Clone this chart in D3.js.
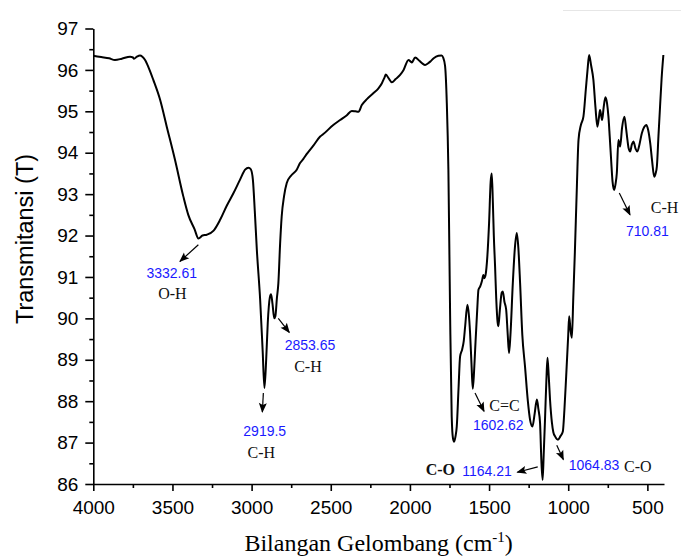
<!DOCTYPE html>
<html>
<head>
<meta charset="utf-8">
<script src="https://cdn.jsdelivr.net/npm/d3@7"></script>
<style>
  body { margin: 0; background: #fff; }
  .axis text { font-family: "Liberation Sans", Arial, sans-serif; font-size: 19px; fill: #000; }
  .axis path, .axis line { stroke: #000; stroke-width: 1.6px; }
</style>
</head>
<body>
<div id="chart"></div>
<script>
// FTIR spectrum - wavenumber (cm-1) and transmittance (%)
var wavenumber = [4000, 3950, 3900, 3863, 3820, 3768, 3750, 3743, 3725, 3705, 3690, 3673, 3650, 3621, 3578, 3536, 3484, 3431, 3400, 3360,
  3336, 3310, 3283, 3240, 3199, 3157, 3115, 3073, 3041, 3020, 3005, 2992, 2980, 2967, 2946, 2930, 2919, 2908, 2898, 2885,
  2877, 2868, 2857, 2850, 2840, 2831, 2820, 2810, 2795, 2778, 2750, 2715, 2694, 2673, 2650, 2631, 2610, 2567, 2547, 2484,
  2441, 2400, 2367, 2345, 2325, 2304, 2270, 2230, 2200, 2177, 2160, 2152, 2135, 2114, 2090, 2062, 2040, 2009, 1995, 1988,
  1967, 1940, 1920, 1904, 1885, 1872, 1850, 1820, 1800, 1790, 1778, 1767, 1757, 1746, 1736, 1728, 1721, 1712, 1704, 1693,
  1683, 1670, 1660, 1651, 1637, 1628, 1620, 1611, 1603, 1595, 1588, 1575, 1567, 1556, 1545, 1536, 1530, 1522, 1511, 1500,
  1490, 1483, 1476, 1470, 1462, 1455, 1446, 1441, 1432, 1420, 1413, 1403, 1392, 1382, 1374, 1365, 1350, 1337, 1325, 1315,
  1304, 1290, 1273, 1255, 1241, 1226, 1212, 1198, 1188, 1178, 1170, 1162, 1155, 1146, 1138, 1131, 1123, 1115, 1103, 1094,
  1083, 1065, 1050, 1034, 1024, 1013, 1000, 994, 985, 977, 968, 958, 946, 935, 920, 904, 889, 878, 868, 855,
  841, 828, 816, 806, 799, 792, 786, 776, 765, 755, 746, 738, 729, 720, 710, 701, 693, 683, 672, 660,
  645, 635, 626, 618, 609, 598, 588, 575, 563, 550, 535, 520, 507, 495, 482, 470, 457, 448, 440, 430,
  420, 410, 399];
var transmittance = [96.34, 96.31, 96.28, 96.24, 96.27, 96.32, 96.3, 96.27, 96.32, 96.35, 96.32, 96.24, 96.05, 95.76, 95.28, 94.63, 93.83, 92.94, 92.5, 92.15,
  91.93, 92.0, 92.02, 92.12, 92.38, 92.72, 93.02, 93.35, 93.59, 93.64, 93.6, 93.35, 92.6, 91.66, 90.45, 89.2, 88.32, 89.0, 89.89, 90.5,
  90.58, 90.35, 90.0, 90.05, 90.5, 90.85, 91.8, 92.46, 92.95, 93.27, 93.45, 93.59, 93.75, 93.85, 93.98, 94.07, 94.17, 94.39, 94.45, 94.67,
  94.79, 94.9, 95.01, 95.0, 94.99, 95.15, 95.3, 95.44, 95.55, 95.68, 95.82, 95.89, 95.8, 95.7, 95.78, 95.88, 96.0, 96.24, 96.2, 96.18,
  96.3, 96.22, 96.15, 96.12, 96.16, 96.2, 96.28, 96.34, 96.35, 96.3, 96.1, 95.2, 93.6, 90.05, 87.63, 87.1, 87.02, 87.15, 87.39, 88.3,
  89.08, 89.25, 89.45, 89.81, 90.33, 90.1, 89.65, 88.9, 88.3, 88.7, 89.24, 90.2, 90.69, 90.77, 90.9, 91.05, 90.97, 91.05, 91.49, 92.3,
  93.3, 93.5, 92.8, 92.0, 91.25, 90.5, 89.9, 89.81, 90.2, 90.62, 90.65, 90.4, 90.21, 89.6, 89.16, 89.6, 90.85, 91.7, 92.06, 91.7,
  90.85, 89.6, 88.84, 88.0, 87.55, 87.39, 87.7, 88.04, 87.8, 87.48, 86.6, 86.1, 86.7, 87.63, 88.5, 89.05, 88.6, 88.04, 87.48, 87.25,
  87.15, 87.07, 87.15, 87.27, 87.8, 88.6, 89.6, 90.05, 89.7, 89.53, 90.5, 91.6, 93.1, 94.31, 94.67, 94.87, 95.52, 96.0, 96.36, 96.1,
  95.76, 95.1, 94.63, 94.85, 95.03, 94.9, 94.79, 95.1, 95.34, 95.2, 94.87, 94.4, 93.83, 93.3, 93.1, 93.25, 93.51, 94.31, 94.15, 94.6,
  94.87, 94.6, 94.31, 94.1, 94.03, 94.2, 94.27, 94.1, 94.03, 94.2, 94.47, 94.62, 94.67, 94.55, 94.23, 93.8, 93.42, 93.5, 93.67, 94.4,
  95.11, 95.8, 96.36];

// labelled peaks
var peakWn = [3332.61, 2919.5, 2853.65, 1602.62, 1164.21, 1064.83, 710.81];
var peakT = [91.93, 88.32, 90.0, 88.3, 86.1, 87.07, 93.1];
var peakText = ["3332.61", "2919.5", "2853.65", "1602.62", "1164.21", "1064.83", "710.81"];
var peakGroup = ["O-H", "C-H", "C-H", "C=C", "C-O", "C-O", "C-H"];

var xTicks = [4000, 3500, 3000, 2500, 2000, 1500, 1000, 500];
var yTicks = [86, 87, 88, 89, 90, 91, 92, 93, 94, 95, 96, 97];

var w = 681, h = 557;
var padLeft = 93.3, padRight = 664, padTop = 28.5, padBottom = 484;

var svg = d3.select("#chart").append("svg")
  .attr("width", w)
  .attr("height", h);

var xScale = d3.scaleLinear().domain([4000, 395]).range([padLeft, padRight]);
var yScale = d3.scaleLinear().domain([86, 97]).range([padBottom, padTop]);

// faint line top right (present in the original image)
svg.append("line")
  .attr("x1", 563).attr("x2", 681).attr("y1", 10.5).attr("y2", 10.5)
  .style("stroke", "#e6e6e6").style("stroke-width", 1);

// minor ticks first, then major axes on top
svg.append("g")
  .attr("class", "axis")
  .attr("transform", "translate(" + padLeft + ",0)")
  .call(d3.axisLeft(yScale).tickValues(d3.range(86.5, 97, 1)).tickSize(4).tickFormat(""))
  .select(".domain").remove();
svg.append("g")
  .attr("class", "axis")
  .attr("transform", "translate(0," + padBottom + ")")
  .call(d3.axisBottom(xScale).tickValues(xTicks.map(function(d) { return d - 250; }).filter(function(d) { return d > 395; })).tickSize(4).tickFormat(""))
  .select(".domain").remove();

var yAxis = d3.axisLeft(yScale)
  .tickValues(yTicks)
  .tickSize(8)
  .tickSizeOuter(0)
  .tickPadding(7)
  .tickFormat(d3.format("d"));
svg.append("g")
  .attr("class", "axis")
  .attr("transform", "translate(" + padLeft + ",0)")
  .call(yAxis);

var xAxis = d3.axisBottom(xScale)
  .tickValues(xTicks)
  .tickSize(7)
  .tickSizeOuter(0)
  .tickPadding(10)
  .tickFormat(d3.format("d"));
svg.append("g")
  .attr("class", "axis")
  .attr("transform", "translate(0," + padBottom + ")")
  .call(xAxis);

// axis titles
svg.append("text")
  .attr("transform", "translate(33," + 239 + ") rotate(-90)")
  .attr("text-anchor", "middle")
  .style("font-family", "'Liberation Sans', Arial, sans-serif")
  .style("font-size", "23.5px")
  .text("Transmitansi (T)");

var xLabel = svg.append("text")
  .attr("x", (padLeft + padRight) / 2)
  .attr("y", 551)
  .attr("text-anchor", "middle")
  .style("font-family", "'Liberation Serif', 'Times New Roman', serif")
  .style("font-size", "24px");
xLabel.append("tspan").text("Bilangan Gelombang (cm");
xLabel.append("tspan").attr("dy", -9).style("font-size", "15px").text("-1");
xLabel.append("tspan").attr("dy", 9).text(")");

// spectrum line
var data = wavenumber.map(function(d, i) { return {wn: d, t: transmittance[i]}; });
var line = d3.line()
  .x(function(d) { return xScale(d.wn); })
  .y(function(d) { return yScale(d.t); })
  .curve(d3.curveMonotoneX);
svg.append("path")
  .datum(data)
  .attr("d", line)
  .style("fill", "none")
  .style("stroke", "#000")
  .style("stroke-width", 2)
  .style("stroke-linejoin", "round");

// arrowhead
svg.append("defs").append("marker")
  .attr("id", "arrow")
  .attr("markerUnits", "userSpaceOnUse")
  .attr("viewBox", "0 0 10 10")
  .attr("refX", 9).attr("refY", 5)
  .attr("markerWidth", 11).attr("markerHeight", 10)
  .attr("orient", "auto")
  .append("path")
  .attr("d", "M0,1 L10,5 L0,9 L2,5 Z")
  .style("fill", "#000");

// label layout, pixel offsets from each peak: arrow start/end, number, group name
var layout = [
  {a: [-0.6, 6.3, -19, 23], n: [-27.2, 39.3, "middle"], g: [-26.5, 60.3, "middle"]},
  {a: [-1, 5, -2, 24], n: [0.4, 48.4, "middle"], g: [-3, 70, "middle"]},
  {a: [3.5, 0, 14.5, 14], n: [35.2, 31.4, "middle"], g: [33.2, 54, "middle"]},
  {a: [2.2, 4.2, 11.2, 22.6], n: [25.5, 41.6, "middle"], g: [16.5, 22.6, "start"]},
  {a: [-4.5, -13, -24.9, -7.6], n: [-30.5, -4.3, "end"], g: [-87.2, -5.3, "end"], bold: true},
  {a: [-1.2, 5.6, 5.4, 19.9], n: [10.8, 30.6, "start"], g: [66.1, 32.6, "start"]},
  {a: [5.3, 3.1, 16, 24.8], n: [12, 45.8, "start"], g: [36.7, 23.1, "start"]}
];

peakWn.forEach(function(wn, i) {
  var px = xScale(wn), py = yScale(peakT[i]), L = layout[i];
  svg.append("line")
    .attr("x1", px + L.a[0]).attr("y1", py + L.a[1])
    .attr("x2", px + L.a[2]).attr("y2", py + L.a[3])
    .style("stroke", "#000").style("stroke-width", 1.2)
    .attr("marker-end", "url(#arrow)");
  svg.append("text")
    .attr("x", px + L.n[0]).attr("y", py + L.n[1])
    .attr("text-anchor", L.n[2])
    .style("font-family", "'Liberation Sans', Arial, sans-serif")
    .style("font-size", "14px")
    .style("fill", "#1a1aff")
    .text(peakText[i]);
  svg.append("text")
    .attr("x", px + L.g[0]).attr("y", py + L.g[1])
    .attr("text-anchor", L.g[2])
    .style("font-family", "'Liberation Serif', 'Times New Roman', serif")
    .style("font-size", "16px")
    .style("font-weight", L.bold ? "bold" : "normal")
    .style("fill", "#111")
    .text(peakGroup[i]);
});
</script>
</body>
</html>
